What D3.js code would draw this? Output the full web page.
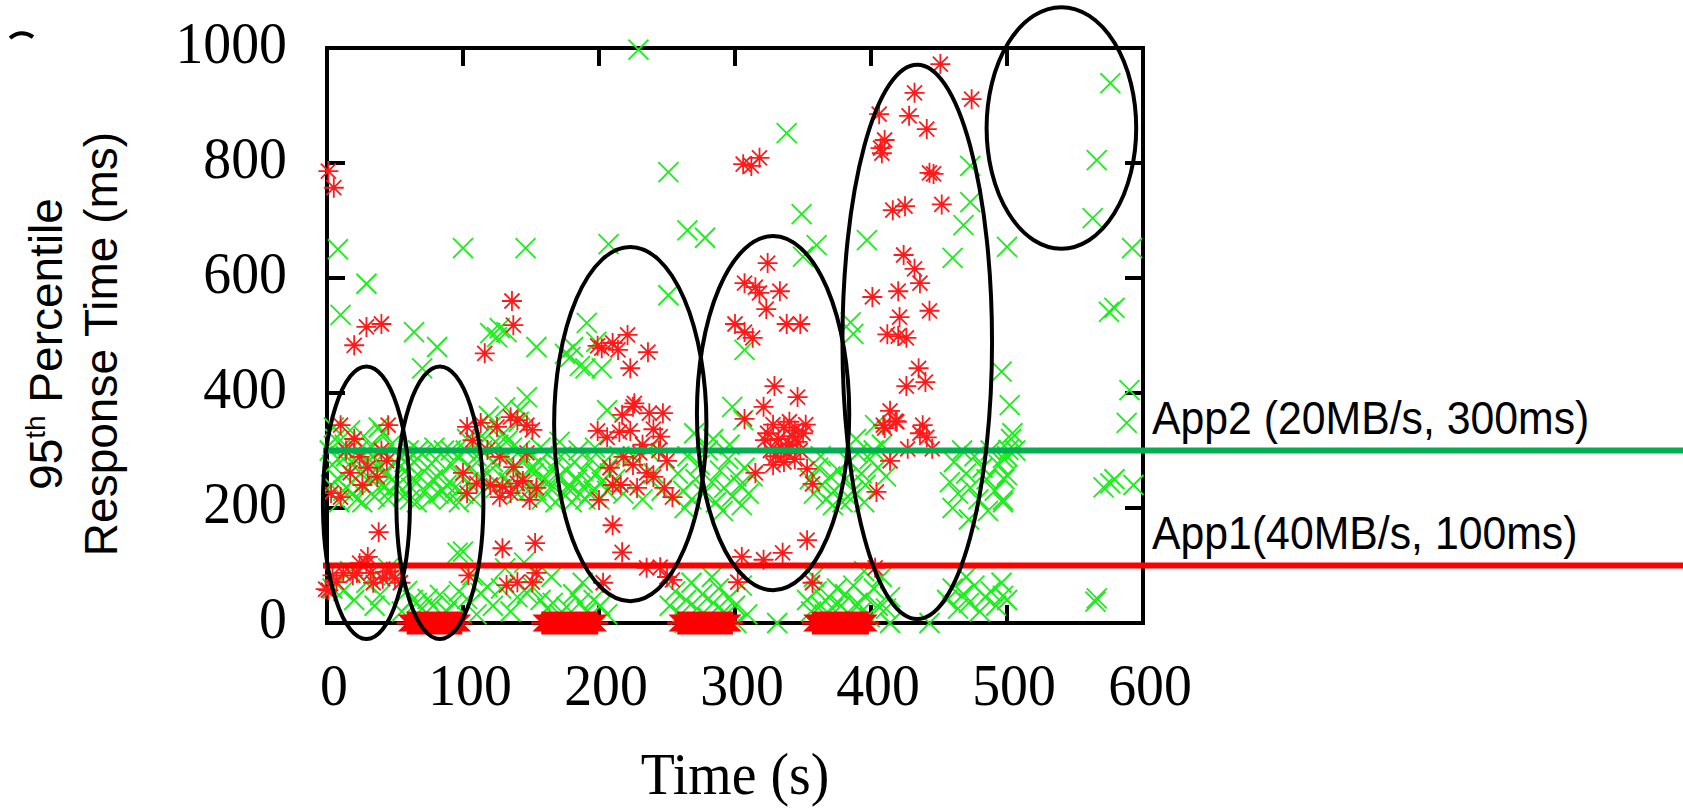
<!DOCTYPE html>
<html lang="en">
<head>
<meta charset="UTF-8">
<title>95th Percentile Response Time</title>
<style>
  body { margin: 0; background: #fff; overflow: hidden; }
  svg  { display: block; background: #fff; }
  .tick-label { font: 60px "Liberation Serif", "Times New Roman", serif; fill: #000; }
  .sans { font-family: "Liberation Sans", Arial, sans-serif; fill: #000; }
</style>
</head>
<body>
<svg id="chart" width="1683" height="809"></svg>

<script src="https://d3js.org/d3.v7.min.js"></script>
<script>
/* ---------------- Data ---------------- */
const xTicks = [0, 100, 200, 300, 400, 500, 600];
const yTicks = [0, 200, 400, 600, 800, 1000];

// App2: green crosses  [time s, response ms]
const app2Points = [
  // sparse upper points
  [229,997],[251,784],[8,650],[100,652],[146,652],[207,659],[265,683],[278,670],[29,590],[251,570],
  [338,852],[576,939],[566,805],[563,704],[592,652],[500,654],[460,635],[468,692],[473,732],[473,795],
  [397,666],[349,711],[360,657],[350,637],[575,541],[579,548],[10,536],[64,506],[81,480],[70,443],
  [120,504],[127,513],[125,497],[132,506],[154,480],[191,522],[181,480],[190,443],[202,443],[179,463],
  [175,468],[186,447],[198,489],[206,370],[147,393],[142,370],[133,318],[96,122],[307,475],[298,376],
  [306,353],[385,523],[387,503],[496,437],[502,379],[403,344],[590,405],[588,348],[576,243],[579,250],
  [593,240],[571,236],[504,330],[501,301],[497,287],[500,257],[497,214],
  // dense band 0-50 s
  [2,300],[4,275],[6,320],[8,250],[10,290],[12,230],[13,310],[15,265],[17,335],[18,245],
  [20,285],[22,215],[23,300],[25,260],[27,325],[28,235],[30,280],[32,250],[33,305],[35,220],
  [37,270],[38,340],[40,240],[42,295],[43,260],[45,215],[47,310],[48,250],[50,280],[3,240],
  [9,210],[19,225],[26,210],[34,290],[41,330],[46,230],[5,340],[14,290],[29,300],[39,275],
  // dense band 50-112 s
  [52,240],[54,290],[56,220],[58,265],[60,300],[62,235],[64,280],[66,210],[68,255],[70,295],
  [72,230],[74,270],[76,215],[78,250],[80,285],[82,225],[84,260],[86,300],[88,240],[90,215],
  [92,275],[94,235],[96,290],[98,255],[100,225],[102,300],[104,245],[106,270],[108,215],[110,290],
  [112,250],[57,280],[67,300],[79,305],[91,300],[103,320],[63,250],[85,230],[97,210],[61,215],
  // band 112-150 s
  [114,300],[116,320],[118,260],[120,340],[122,280],[124,235],[126,310],[128,255],[130,330],[132,290],
  [134,245],[136,305],[138,270],[140,225],[142,300],[144,250],[146,285],[148,230],[150,270],[119,360],
  [131,375],[141,350],
  // band 150-210 s
  [152,260],[154,230],[156,280],[158,215],[160,250],[162,295],[164,235],[166,270],[168,210],[170,255],
  [172,290],[174,225],[176,265],[178,240],[180,210],[182,280],[184,250],[186,225],[188,265],[190,215],
  [192,245],[194,285],[196,230],[198,260],[200,215],[202,245],[204,280],[206,230],[208,260],[157,305],
  [171,315],[185,300],[197,305],[163,245],[179,230],[193,225],
  [212,250],[218,225],[225,290],[232,215],[240,260],[246,230],[215,290],[236,300],
  // band 255-315 s
  [258,260],[262,230],[265,290],[268,215],[271,250],[274,275],[277,225],[280,300],[283,245],[286,210],
  [289,265],[292,235],[295,285],[298,220],[301,255],[304,240],[307,270],[310,225],[313,255],[296,310],
  [284,320],[270,330],[263,200],[291,195],[305,205],
  // band 355-415 s
  [355,250],[358,225],[361,270],[364,240],[367,215],[370,255],[373,230],[376,265],[379,210],[363,290],
  [372,205],[381,250],[384,280],[387,230],[390,295],[393,260],[396,240],[399,285],[402,300],[405,270],
  [408,310],[411,255],[385,215],[395,210],[389,320],
  // band 455-510 s
  [458,245],[461,280],[464,225],[467,300],[470,260],[473,235],[476,290],[479,215],[482,270],[485,250],
  [488,300],[491,230],[494,275],[497,210],[500,290],[503,320],[506,300],[460,200],[472,180],[486,195],
  [498,250],
  // near zero
  [4,60],[12,56],[17,90],[20,40],[29,70],[35,30],[39,49],[45,95],[49,83],[55,20],
  [59,56],[63,40],[66,35],[70,25],[74,42],[78,30],[83,49],[88,20],[93,35],[97,55],
  [103,42],[107,83],[110,15],[100,124],[113,52],[118,63],
  [122,30],[128,60],[135,20],[140,45],[147,52],[151,63],[157,40],[162,25],[166,35],[171,15],
  [176,28],[181,50],[186,35],[191,20],[196,40],[201,30],[206,15],[131,95],[145,105],[165,80],[188,70],
  [252,30],[256,55],[260,15],[264,40],[268,70],[272,25],[276,50],[280,10],[284,35],[288,60],
  [292,20],[296,45],[300,30],[305,65],[309,15],[263,0],[301,0],[283,80],
  [353,40],[356,20],[360,55],[363,30],[366,15],[369,45],[372,25],[375,60],[358,80],
  [378,30],[381,50],[384,15],[387,65],[390,35],[393,20],[396,45],[399,10],[402,60],[405,30],
  [408,80],[411,25],[414,45],[395,90],
  [456,40],[460,60],[464,25],[468,50],[472,35],[476,65],[480,20],[484,45],[488,55],[492,30],
  [496,70],[500,40],[470,80],[497,47],[565,37],[566,43],[331,0],[443,0],[414,0]
];

// App1: red asterisks  [time s, response ms]
const app1Points = [
  [1,786],[5,757],[136,560],[137,518],[116,469],[29,515],[40,520],[20,483],[38,158],
  [199,482],[202,478],[210,487],[214,475],[221,501],[236,471],[223,443],
  [226,382],[217,362],[237,365],[247,365],[225,376],[199,334],[206,323],[215,332],[223,334],[240,337],[245,324],
  [218,289],[225,275],[230,296],[235,261],[216,240],[228,235],[240,254],[210,240],[200,214],[232,310],[244,300],[208,270],
  [210,170],[217,123],[203,70],[235,96],[245,97],[250,80],[254,75],
  [129,130],[153,139],[154,87],[151,71],[140,71],[132,66],[104,83],
  [12,87],[22,87],[32,87],[44,89],[50,78],[7,71],[34,70],[24,104],[30,115],[1,57],
  [4,83],[19,83],[29,103],[46,90],[54,70],[-1,59],[41,77],
  [3,226],[10,219],[10,344],[45,344],[17,261],[37,254],[24,289],[44,282],[14,300],[30,270],[20,320],[40,300],[26,240],
  [103,341],[113,348],[125,341],[135,358],[140,353],[147,344],[151,336],[107,318],[118,301],[127,289],
  [137,271],[100,261],[110,243],[129,237],[140,243],[103,226],[135,226],[149,214],[127,219],[144,247],
  [154,235],[147,296],[120,240],
  [306,798],[312,795],[318,809],[324,626],[307,591],[315,584],[318,574],[333,577],[323,546],[300,520],
  [307,506],[313,496],[338,520],[348,520],[329,412],[321,376],[346,393],[307,355],
  [324,330],[328,345],[332,320],[336,340],[340,310],[344,335],[348,300],[326,300],[330,290],[338,295],
  [342,325],[346,315],[350,330],[334,305],[322,318],[352,345],[336,280],[344,285],[328,275],[340,350],
  [353,268],[357,242],[315,261],[250,282],[254,219],[248,235],
  [305,115],[321,110],[335,122],[353,144],[302,71],[357,70],
  [451,972],[432,922],[474,911],[406,885],[428,882],[441,859],[410,840],[407,826],[408,817],[443,783],
  [446,781],[416,718],[425,725],[452,728],[424,640],[432,616],[436,591],[401,567],[420,577],[421,532],
  [443,543],[412,502],[420,499],[426,496],[435,443],[440,419],[426,412],[414,369],[418,351],[409,344],
  [438,344],[436,330],[441,323],[427,303],[445,303],[414,282],[404,228],[403,96],[410,339],[419,350]
];

// App1 runs where the response time sits at 0 ms  [start s, end s]
const app1ZeroRuns = [[59, 99], [158, 199], [258, 298], [357, 398]];

const thresholds = [
  { label: 'App2 (20MB/s, 300ms)', value: 300, color: '#00b050' },
  { label: 'App1(40MB/s, 100ms)',  value: 100, color: '#ff0000' }
];

// annotation ellipses  [centre s, centre ms, radius s, radius ms]
const ellipses = [
  [29, 209, 32, 237], [83, 209, 32, 237], [223, 346, 56, 308],
  [328, 365, 56, 308], [434, 489, 55, 482], [540, 861, 55, 210]
];

/* ---------------- Scales ---------------- */
const W = 1683;
const x = d3.scaleLinear().domain([0, 600]).range([327, 1143]);
const y = d3.scaleLinear().domain([0, 1000]).range([623, 48]);
const TEXT_SX = 0.93;   // the figure's text is slightly narrowed

const svg = d3.select('#chart');

/* ---------------- Frame & ticks ---------------- */
svg.append('rect')
  .attr('x', x(0)).attr('y', y(1000))
  .attr('width', x(600) - x(0)).attr('height', y(0) - y(1000))
  .attr('fill', 'none').attr('stroke', '#000').attr('stroke-width', 4);

const tickG = svg.append('g').attr('stroke', '#000').attr('stroke-width', 4);
xTicks.slice(1, -1).forEach(v => {
  tickG.append('line').attr('x1', x(v)).attr('x2', x(v)).attr('y1', y(0)).attr('y2', y(0) - 18);
  tickG.append('line').attr('x1', x(v)).attr('x2', x(v)).attr('y1', y(1000)).attr('y2', y(1000) + 18);
});
yTicks.slice(1, -1).forEach(v => {
  tickG.append('line').attr('x1', x(0)).attr('x2', x(0) + 18).attr('y1', y(v)).attr('y2', y(v));
  tickG.append('line').attr('x1', x(600)).attr('x2', x(600) - 18).attr('y1', y(v)).attr('y2', y(v));
});

svg.append('g').selectAll('text')
  .data(yTicks).enter().append('text')
    .attr('class', 'tick-label')
    .attr('text-anchor', 'end')
    .attr('transform', d => `translate(287,${y(d) + 15}) scale(${TEXT_SX},1)`)
    .text(d => d);

svg.append('g').selectAll('text')
  .data(xTicks).enter().append('text')
    .attr('class', 'tick-label')
    .attr('text-anchor', 'middle')
    .attr('transform', d => `translate(${x(d) + 7},705) scale(${TEXT_SX},1)`)
    .text(d => d);

/* ---------------- Points ---------------- */
const crossPath = 'M-10,-10L10,10M-10,10L10,-10';
const starPath  = 'M-10,0H10M0,-10V10M-7.5,-7.5L7.5,7.5M-7.5,7.5L7.5,-7.5';

svg.append('g').selectAll('path')
  .data(app2Points).enter().append('path')
    .attr('d', crossPath)
    .attr('transform', d => `translate(${x(d[0])},${y(d[1])})`)
    .attr('fill', 'none').attr('stroke', '#1aee1a').attr('stroke-width', 1.8);

svg.append('g').selectAll('path')
  .data(app1Points).enter().append('path')
    .attr('d', starPath)
    .attr('transform', d => `translate(${x(d[0])},${y(d[1])})`)
    .attr('fill', 'none').attr('stroke', '#ff1a1a').attr('stroke-width', 1.8);

// runs of asterisks at 0 ms merge into one solid shape
svg.append('g').selectAll('path')
  .data(app1ZeroRuns).enter().append('path')
    .attr('d', ([s, e]) => {
      const a = x(s), b = x(e), c = y(0);
      return `M${a-10},${c-1}L${a-1},${c-1}L${a-8},${c-8}L${a},${c-8}L${a},${c-11}L${b},${c-11}` +
             `L${b},${c-8}L${b+8},${c-8}L${b+1},${c-1}L${b+10},${c-1}L${b+10},${c+1}L${b+1},${c+1}` +
             `L${b+8},${c+8}L${b},${c+8}L${b},${c+11}L${a},${c+11}L${a},${c+8}L${a-8},${c+8}` +
             `L${a-1},${c+1}L${a-10},${c+1}Z`;
    })
    .attr('fill', '#ff0000').attr('stroke', '#ff0000').attr('stroke-width', 1.2);

/* ---------------- Threshold lines ---------------- */
svg.append('g').selectAll('line')
  .data(thresholds).enter().append('line')
    .attr('x1', x(0) - 4).attr('x2', W)
    .attr('y1', d => y(d.value)).attr('y2', d => y(d.value))
    .attr('stroke', d => d.color).attr('stroke-width', 6);

svg.append('g').selectAll('text')
  .data(thresholds).enter().append('text')
    .attr('class', 'sans')
    .attr('font-size', 46)
    .attr('transform', d => `translate(1152,${y(d.value) - 17}) scale(${TEXT_SX},1)`)
    .text(d => d.label);

/* ---------------- Ellipses ---------------- */
svg.append('g').selectAll('ellipse')
  .data(ellipses).enter().append('ellipse')
    .attr('cx', d => x(d[0])).attr('cy', d => y(d[1]))
    .attr('rx', d => x(d[0] + d[2]) - x(d[0]))
    .attr('ry', d => y(d[1] - d[3]) - y(d[1]))
    .attr('fill', 'none').attr('stroke', '#000').attr('stroke-width', 4);

/* ---------------- Axis titles ---------------- */
const t1 = svg.append('text')
  .attr('class', 'sans').attr('font-size', 46)
  .attr('text-anchor', 'middle')
  .attr('transform', 'translate(62,344) rotate(-90)');
t1.append('tspan').text('95');
t1.append('tspan').attr('font-size', 28).attr('dy', -17).text('th');
t1.append('tspan').attr('dy', 17).text(' Percentile');

svg.append('text')
  .attr('class', 'sans').attr('font-size', 46)
  .attr('text-anchor', 'middle')
  .attr('transform', 'translate(117,344) rotate(-90)')
  .text('Response Time (ms)');

svg.append('text')
  .attr('class', 'tick-label')
  .attr('font-size', 56)
  .attr('text-anchor', 'middle')
  .attr('transform', `translate(735,794) scale(${TEXT_SX},1)`)
  .text('Time (s)');

// stray mark at the top-left corner of the figure
svg.append('path')
  .attr('d', 'M10,38 Q21,29 33,37')
  .attr('fill', 'none').attr('stroke', '#000').attr('stroke-width', 4);
</script>
</body>
</html>
